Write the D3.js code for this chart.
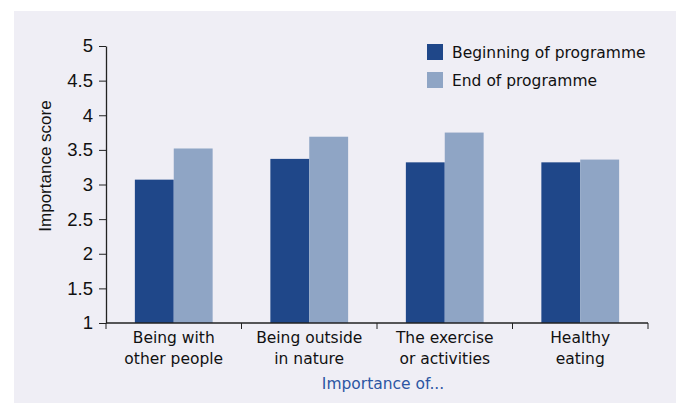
<!DOCTYPE html>
<html>
<head>
<meta charset="utf-8">
<script src="https://cdn.jsdelivr.net/npm/d3@7"></script>
<style>
  body { margin: 0; background: #fff; }
</style>
</head>
<body>
<div id="chart"></div>
<script>
// data
const categories = [
  ['Being with', 'other people'],
  ['Being outside', 'in nature'],
  ['The exercise', 'or activities'],
  ['Healthy', 'eating']
];
const seriesNames = ['Beginning of programme', 'End of programme'];
const beginning = [3.07, 3.37, 3.32, 3.32];
const endValues = [3.52, 3.69, 3.75, 3.36];
const yTicks = [1, 1.5, 2, 2.5, 3, 3.5, 4, 4.5, 5];
const colors = ['#1f4789', '#8fa5c5'];

const width = 676, height = 403;
const margin = { top: 46, right: 28, bottom: 80, left: 106 };
const plotW = width - margin.left - margin.right;
const plotH = height - margin.top - margin.bottom;

const svg = d3.select('#chart').append('svg')
  .attr('width', width)
  .attr('height', height);

svg.append('rect')
  .attr('x', 14).attr('y', 11)
  .attr('width', width - 14).attr('height', height - 11)
  .attr('fill', '#efeef5');

const g = svg.append('g')
  .attr('transform', `translate(${margin.left}, ${margin.top})`);

const keys = categories.map((c, i) => i);
const x = d3.scaleBand().domain(keys).range([0, plotW]).padding(0);
const bw = x.bandwidth();
const x1 = d3.scaleBand().domain([0, 1]).range([bw * 0.213, bw * 0.787]).padding(0);
const y = d3.scaleLinear().domain([1, 5]).range([plotH, 0]);

const rows = keys.map(i => ({ i, vals: [beginning[i], endValues[i]] }));

const groups = g.selectAll('.grp').data(rows).enter().append('g')
  .attr('transform', d => `translate(${x(d.i)}, 0)`);

groups.selectAll('rect')
  .data(d => d.vals.map((v, s) => ({ v, s })))
  .enter().append('rect')
  .attr('x', d => x1(d.s))
  .attr('width', x1.bandwidth())
  .attr('y', d => y(d.v))
  .attr('height', d => y(1) - y(d.v))
  .attr('fill', d => colors[d.s]);

// y axis
const yAxis = g.append('g')
  .call(d3.axisLeft(y).tickValues(yTicks).tickFormat(d3.format('')).tickSize(7).tickSizeOuter(0));
yAxis.select('.domain').attr('stroke', '#222').attr('stroke-width', 1.3);
yAxis.selectAll('.tick line').attr('stroke', '#222');
yAxis.selectAll('text')
  .attr('font-family', 'Liberation Sans, Arial, sans-serif')
  .attr('font-size', '18.5px')
  .attr('fill', '#111')
  .attr('x', -13);

// x axis: boundaries ticks
const xAxisG = g.append('g').attr('transform', `translate(0, ${plotH})`);
xAxisG.append('line')
  .attr('x1', 0).attr('x2', plotW)
  .attr('stroke', '#222').attr('stroke-width', 1.3);
const bounds = keys.map(i => x(i)).concat([plotW]);
xAxisG.selectAll('.bt').data(bounds).enter().append('line')
  .attr('x1', d => d).attr('x2', d => d)
  .attr('y1', 0).attr('y2', 6)
  .attr('stroke', '#222');

const labels = xAxisG.selectAll('.cat').data(rows).enter().append('text')
  .attr('text-anchor', 'middle')
  .attr('font-family', 'DejaVu Sans, sans-serif')
  .attr('font-size', '15.5px')
  .attr('fill', '#111');
labels.each(function (d) {
  const t = d3.select(this);
  categories[d.i].forEach((line, k) => {
    t.append('tspan')
      .attr('x', x(d.i) + bw / 2)
      .attr('y', 20 + k * 21)
      .text(line);
  });
});

g.append('text')
  .attr('x', plotW / 2 + 6)
  .attr('y', plotH + 66)
  .attr('text-anchor', 'middle')
  .attr('font-family', 'DejaVu Sans, sans-serif')
  .attr('font-size', '15.5px')
  .attr('fill', '#2c56a3')
  .text('Importance of...');

svg.append('text')
  .attr('transform', `translate(51, 166) rotate(-90)`)
  .attr('text-anchor', 'middle')
  .attr('font-family', 'Liberation Sans, Arial, sans-serif')
  .attr('font-size', '17px')
  .attr('fill', '#111')
  .text('Importance score');

// legend
const legend = svg.append('g').attr('transform', 'translate(427, 44)');
seriesNames.forEach((name, i) => {
  legend.append('rect')
    .attr('x', 0).attr('y', i * 28)
    .attr('width', 16).attr('height', 16)
    .attr('fill', colors[i]);
  legend.append('text')
    .attr('x', 25).attr('y', i * 28 + 14)
    .attr('font-family', 'DejaVu Sans, sans-serif')
    .attr('font-size', '15.5px')
    .attr('fill', '#111')
    .text(name);
});
</script>
</body>
</html>
